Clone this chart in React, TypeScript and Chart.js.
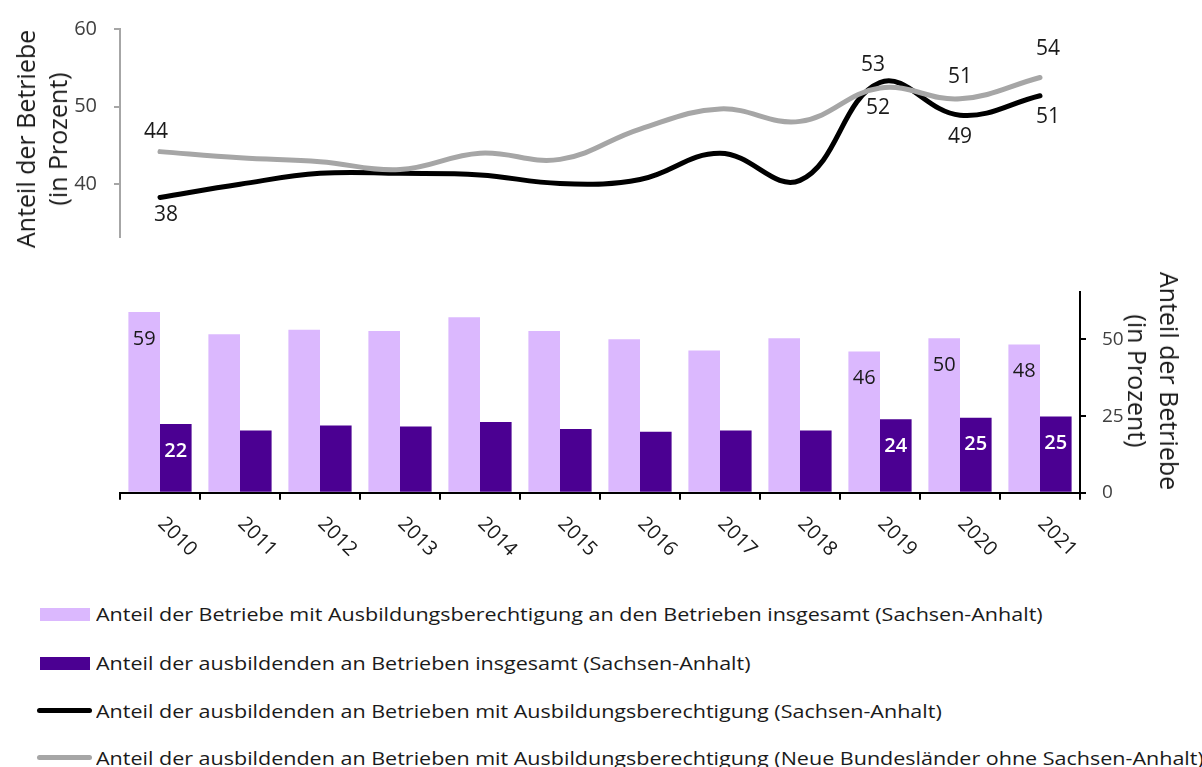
import React, { useEffect, useRef } from 'react';
import { Chart, registerables } from 'chart.js';

Chart.register(...registerables);

// ---------- data ----------
const years = ['2010', '2011', '2012', '2013', '2014', '2015', '2016', '2017', '2018', '2019', '2020', '2021'];
// bars (Sachsen-Anhalt)
const shareAuthorized = [59.0, 51.7, 53.2, 52.8, 57.3, 52.8, 50.1, 46.4, 50.4, 46.1, 50.4, 48.4];
const shareTrainingAll = [22.4, 20.3, 21.9, 21.6, 23.1, 20.8, 19.9, 20.3, 20.3, 24.0, 24.5, 24.9];
// lines
const shareTrainingAuthST = [38.3, 40.0, 41.4, 41.4, 41.2, 40.1, 40.6, 44.0, 40.5, 53.1, 48.9, 51.4];
const shareTrainingAuthNBL = [44.2, 43.4, 42.9, 41.9, 44.0, 43.2, 47.1, 49.7, 48.1, 52.4, 51.0, 53.75];

const legendLabels = [
  'Anteil der Betriebe mit Ausbildungsberechtigung an den Betrieben insgesamt (Sachsen-Anhalt)',
  'Anteil der ausbildenden an Betrieben insgesamt (Sachsen-Anhalt)',
  'Anteil der ausbildenden an Betrieben mit Ausbildungsberechtigung (Sachsen-Anhalt)',
  'Anteil der ausbildenden an Betrieben mit Ausbildungsberechtigung (Neue Bundesländer ohne Sachsen-Anhalt)',
];
const axisTitle = ['Anteil der Betriebe', '(in Prozent)'];
const topTicks = [40, 50, 60];
const bottomTicks = [0, 25, 50];
const labeledYears = [0, 9, 10, 11];

// ---------- styles ----------
const FONT = "'Open Sans', 'Noto Sans', sans-serif";
const LIGHT = '#dbb8fe';
const DARK = '#4b0092';
const BLACK = '#000000';
const GRAY = '#a6a6a6';
const TEXT = '#1a1a1a';
const TICKTEXT = '#404040';

// label placement for the line points (index, dx, dy)
const stLabelPos = [[0, 6, 18], [9, -7, -18], [10, 0, 22], [11, 8, 21]];
const nblLabelPos = [[0, -4, -20], [9, -2, 20], [10, 0, -22], [11, 8, -28]];

const W = 1202;
const TOP_H = 250;
const BOT_TOP = 250;
const BOT_H = 340;

const lineLabelPlugin = {
  id: 'lineLabels',
  afterDatasetsDraw(chart: any) {
    const ctx = chart.ctx;
    ctx.save();
    ctx.font = `21px ${FONT}`;
    ctx.fillStyle = TEXT;
    ctx.textAlign = 'center';
    ctx.textBaseline = 'middle';
    chart.data.datasets.forEach((ds: any, di: number) => {
      const meta = chart.getDatasetMeta(di);
      (ds.labelPos || []).forEach(([i, dx, dy]: number[]) => {
        const el = meta.data[i];
        if (!el) return;
        ctx.fillText(String(Math.round(ds.data[i])), el.x + dx, el.y + dy);
      });
    });
    ctx.restore();
  },
};

const barLabelPlugin = {
  id: 'barLabels',
  afterDatasetsDraw(chart: any) {
    const ctx = chart.ctx;
    ctx.save();
    ctx.textAlign = 'center';
    ctx.textBaseline = 'middle';
    chart.data.datasets.forEach((ds: any, di: number) => {
      const meta = chart.getDatasetMeta(di);
      ctx.font = `${ds.labelWeight || 400} 20px ${FONT}`;
      ctx.fillStyle = ds.labelColor;
      labeledYears.forEach((i) => {
        const el = meta.data[i];
        if (!el) return;
        ctx.fillText(String(Math.round(ds.data[i])), el.x, el.y + 27);
      });
    });
    ctx.restore();
  },
};

const xLabelPlugin = {
  id: 'xLabels',
  afterDraw(chart: any) {
    const ctx = chart.ctx;
    const xs = chart.scales.x;
    ctx.save();
    ctx.font = `20px ${FONT}`;
    ctx.fillStyle = TEXT;
    ctx.textAlign = 'left';
    ctx.textBaseline = 'middle';
    years.forEach((y, i) => {
      const x = xs.getPixelForValue(i);
      ctx.save();
      ctx.translate(x + 1, xs.top + 28);
      ctx.rotate(Math.PI / 4);
      ctx.fillText(y, 0, 0);
      ctx.restore();
    });
    ctx.restore();
  },
};

function TopChart() {
  const ref = useRef<HTMLCanvasElement>(null);
  useEffect(() => {
    const chart = new Chart(ref.current as HTMLCanvasElement, {
      type: 'line',
      data: {
        labels: years,
        datasets: [
          {
            label: legendLabels[3],
            data: shareTrainingAuthNBL,
            borderColor: GRAY,
            borderWidth: 5,
            tension: 0.4,
            pointRadius: 0,
            borderCapStyle: 'round',
            order: 0,
            labelPos: nblLabelPos,
          } as any,
          {
            label: legendLabels[2],
            data: shareTrainingAuthST,
            borderColor: BLACK,
            borderWidth: 5,
            tension: 0.4,
            pointRadius: 0,
            borderCapStyle: 'round',
            order: 1,
            labelPos: stLabelPos,
          } as any,
        ],
      },
      options: {
        animation: false,
        responsive: false,
        layout: { padding: { top: 29, bottom: 13, left: 0, right: W - 1080 } },
        plugins: { legend: { display: false }, tooltip: { enabled: false } },
        scales: {
          x: { display: false, offset: true },
          y: {
            min: 33.2,
            max: 60,
            afterBuildTicks: (axis: any) => {
              axis.ticks = topTicks.map((v) => ({ value: v }));
            },
            afterFit: (s: any) => {
              s.width = 120;
              s.paddingTop = 0;
              s.paddingBottom = 0;
            },
            grid: { drawOnChartArea: false, drawTicks: true, tickLength: 6, color: GRAY, lineWidth: 2 },
            border: { display: true, color: GRAY, width: 2 },
            ticks: { padding: 17, color: TICKTEXT, font: { family: FONT, size: 20 } },
          },
        },
      } as any,
      plugins: [lineLabelPlugin],
    });
    return () => chart.destroy();
  }, []);
  return (
    <canvas
      ref={ref}
      width={W}
      height={TOP_H}
      style={{ position: 'absolute', left: 0, top: 0, width: W, height: TOP_H }}
    />
  );
}

function BottomChart() {
  const ref = useRef<HTMLCanvasElement>(null);
  useEffect(() => {
    const chart = new Chart(ref.current as HTMLCanvasElement, {
      type: 'bar',
      data: {
        labels: years,
        datasets: [
          {
            label: legendLabels[0],
            data: shareAuthorized,
            backgroundColor: LIGHT,
            categoryPercentage: 0.79,
            barPercentage: 1,
            labelColor: TEXT,
            labelWeight: 400,
          } as any,
          {
            label: legendLabels[1],
            data: shareTrainingAll,
            backgroundColor: DARK,
            categoryPercentage: 0.79,
            barPercentage: 1,
            labelColor: '#ffffff',
            labelWeight: 600,
          } as any,
        ],
      },
      options: {
        animation: false,
        responsive: false,
        layout: { padding: { top: 42, bottom: 87, left: 120, right: 0 } },
        plugins: { legend: { display: false }, tooltip: { enabled: false } },
        scales: {
          x: {
            offset: true,
            grid: { offset: true, display: true, drawOnChartArea: false, drawTicks: true, tickLength: 7, color: BLACK, lineWidth: 2 },
            border: { display: true, color: BLACK, width: 2, z: 1 },
            ticks: { display: false },
            afterFit: (s: any) => {
              s.height = 10.3;
            },
          },
          y: {
            position: 'right',
            min: 0,
            max: 65.5,
            afterBuildTicks: (axis: any) => {
              axis.ticks = bottomTicks.map((v) => ({ value: v }));
            },
            afterFit: (s: any) => {
              s.width = W - 1080;
              s.paddingTop = 0;
              s.paddingBottom = 0;
            },
            grid: { drawOnChartArea: false, drawTicks: true, tickLength: 6, color: BLACK, lineWidth: 2 },
            border: { display: true, color: BLACK, width: 2, z: 1 },
            ticks: { padding: 16, color: TICKTEXT, font: { family: FONT, size: 19 } },
          },
        },
      } as any,
      plugins: [barLabelPlugin, xLabelPlugin],
    });
    return () => chart.destroy();
  }, []);
  return (
    <canvas
      ref={ref}
      width={W}
      height={BOT_H}
      style={{ position: 'absolute', left: 0, top: BOT_TOP, width: W, height: BOT_H }}
    />
  );
}

function AxisTitle({ cx, cy, rotate }: { cx: number; cy: number; rotate: number }) {
  return (
    <div
      style={{
        position: 'absolute',
        left: cx,
        top: cy,
        transform: `translate(-50%, -50%) rotate(${rotate}deg)`,
        whiteSpace: 'nowrap',
        textAlign: 'center',
        fontSize: 25,
        lineHeight: '32px',
        color: TEXT,
      }}
    >
      {axisTitle.map((t) => (
        <div key={t}>{t}</div>
      ))}
    </div>
  );
}

const legendRows = [
  { cy: 614, kind: 'box', color: LIGHT },
  { cy: 663, kind: 'box', color: DARK },
  { cy: 710.5, kind: 'line', color: BLACK },
  { cy: 757.5, kind: 'line', color: GRAY },
];

function Legend() {
  return (
    <>
      {legendRows.map((r, i) => (
        <div key={i}>
          {r.kind === 'box' ? (
            <div style={{ position: 'absolute', left: 40, top: r.cy - 6.5, width: 50, height: 13, background: r.color }} />
          ) : (
            <div
              style={{ position: 'absolute', left: 37, top: r.cy - 2.5, width: 55, height: 5, borderRadius: 3, background: r.color }}
            />
          )}
          <div
            style={{
              position: 'absolute',
              left: 96,
              top: r.cy - 14,
              height: 28,
              lineHeight: '28px',
              fontSize: 18,
              whiteSpace: 'nowrap',
              color: TEXT,
              transformOrigin: 'left center',
              transform: 'scaleX(1.195)',
            }}
          >
            {legendLabels[i]}
          </div>
        </div>
      ))}
    </>
  );
}

export default function App() {
  return (
    <div
      style={{
        position: 'absolute',
        left: 0,
        top: 0,
        width: W,
        height: 767,
        background: '#ffffff',
        fontFamily: FONT,
        overflow: 'hidden',
      }}
    >
      <TopChart />
      <BottomChart />
      <AxisTitle cx={41} cy={139} rotate={-90} />
      <AxisTitle cx={1154} cy={381} rotate={90} />
      <Legend />
    </div>
  );
}
